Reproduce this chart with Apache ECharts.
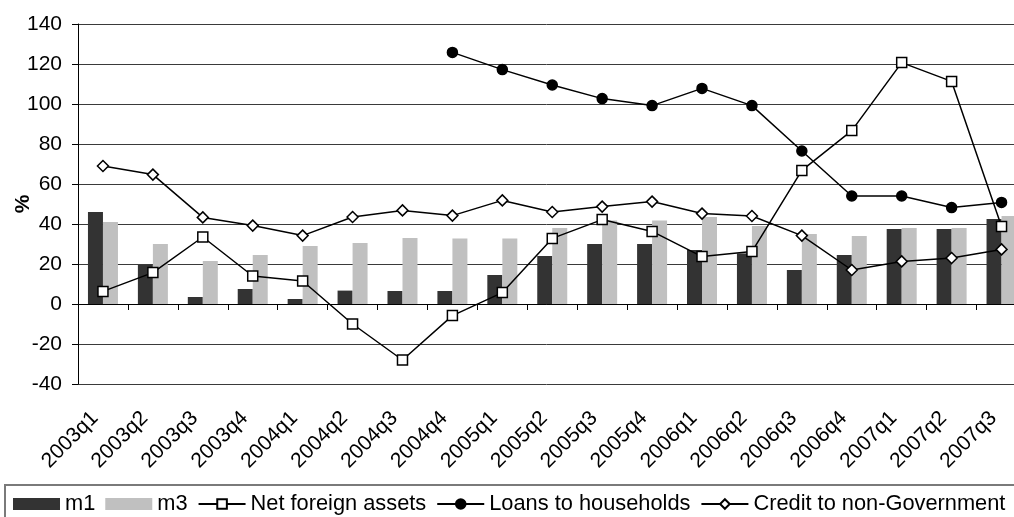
<!DOCTYPE html>
<html>
<head>
<meta charset="utf-8">
<script src="https://cdn.jsdelivr.net/npm/echarts@6/dist/echarts.min.js"></script>
<style>
  html, body { margin: 0; padding: 0; background: #fff; }
  #chart { width: 1014px; height: 517px; }
</style>
</head>
<body>
<div id="chart"></div>
<script>
// Quarterly growth rates, %
const categories = ['2003q1','2003q2','2003q3','2003q4','2004q1','2004q2','2004q3','2004q4',
  '2005q1','2005q2','2005q3','2005q4','2006q1','2006q2','2006q3','2006q4','2007q1','2007q2','2007q3'];
const m1 = [46, 19.5, 3.5, 7.5, 2.5, 6.7, 6.5, 6.5, 14.5, 24, 30, 30, 27, 25.3, 17, 24.5, 37.5, 37.5, 42.5];
const m3 = [41, 30, 21.5, 24.5, 29, 30.5, 33, 32.7, 32.7, 38, 41.7, 41.7, 43.5, 39, 35, 34, 38, 38, 44];
const netForeignAssets = [6.3, 15.7, 33.5, 14, 11.5, -10, -28, -5.8, 5.7, 32.8, 42.2, 36.3, 23.7, 26.2, 66.8, 86.7, 120.7, 111.3, 38.8];
const loansToHouseholds = [null, null, null, null, null, null, null, 125.8, 117.2, 109.5, 102.7, 99.2, 107.8, 99.2, 76.5, 54, 54, 48.2, 50.8];
const creditToNonGov = [69, 64.7, 43.3, 39.2, 34.2, 43.5, 46.8, 44.2, 51.8, 46, 48.7, 51.2, 45.2, 44, 34.2, 17, 21.3, 23, 27.3];
const yTicks = { min: -40, max: 140, step: 20 };

const FONT = "'Liberation Sans', Arial, Helvetica, sans-serif";
const chart = echarts.init(document.getElementById('chart'), null, { renderer: 'canvas' });

const lineSeries = (name, data, symbol, size, fill) => ({
  name, type: 'line', data, xAxisIndex: 0,
  symbol, symbolSize: size,
  connectNulls: false,
  lineStyle: { color: '#000', width: 1.5 },
  itemStyle: { color: fill, borderColor: '#000', borderWidth: 1.5 },
  emphasis: { disabled: true },
  z: 5
});

chart.setOption({
  animation: false,
  backgroundColor: '#fff',
  textStyle: { fontFamily: FONT, color: '#000' },
  grid: { left: 78, right: -12.5, top: 24, bottom: 133, outerBoundsMode: 'none', containLabel: false },
  legend: {
    left: 13, top: 493, padding: 0,
    itemWidth: 47, itemHeight: 12, itemGap: 10,
    textStyle: { fontFamily: FONT, fontSize: 21.8, color: '#000' },
    data: [
      { name: 'm1', icon: 'rect' },
      { name: 'm3', icon: 'rect' },
      'Net foreign assets', 'Loans to households', 'Credit to non-Government'
    ],
    selectedMode: false
  },
  // legend frame
  graphic: [{
    type: 'rect', z: -1, silent: true,
    shape: { x: 5, y: 485, width: 1030, height: 60 },
    style: { fill: 'none', stroke: '#7a7a7a', lineWidth: 2 }
  }],
  xAxis: [{
    // category labels along the bottom edge of the plot
    type: 'category', data: categories, position: 'bottom',
    axisLine: { show: false, onZero: false },
    axisTick: { show: false },
    axisLabel: {
      interval: 0, rotate: 45, margin: 8, align: 'right', verticalAlign: 'top',
      padding: [0, 22, 0, 0],
      fontFamily: FONT, fontSize: 21, color: '#000'
    },
    splitLine: { show: false }
  }, {
    // axis line and ticks sitting on the zero level
    type: 'category', data: categories, position: 'top',
    axisLine: { show: true, onZero: true, lineStyle: { color: '#000', width: 1 } },
    axisTick: { show: true, inside: true, length: 6, interval: 0, lineStyle: { color: '#000', width: 1 } },
    axisLabel: { show: false },
    splitLine: { show: false }
  }],
  yAxis: {
    type: 'value', min: yTicks.min, max: yTicks.max, interval: yTicks.step,
    name: '%', nameLocation: 'middle', nameGap: 44, nameRotate: 90, nameMoveOverlap: false,
    nameTextStyle: { fontFamily: FONT, fontSize: 21, fontWeight: 'bold', color: '#000' },
    axisLine: { show: true, lineStyle: { color: '#000', width: 1 } },
    axisTick: { show: true, length: 6, lineStyle: { color: '#000', width: 1 } },
    axisLabel: { margin: 16, fontFamily: FONT, fontSize: 21, color: '#000' },
    splitLine: { show: true, lineStyle: { color: '#3a3a3a', width: 1 } }
  },
  series: [
    { name: 'm1', type: 'bar', data: m1, barWidth: 15, barGap: '0%', itemStyle: { color: '#333333' }, emphasis: { disabled: true }, z: 2 },
    { name: 'm3', type: 'bar', data: m3, barWidth: 15, barGap: '0%', itemStyle: { color: '#c0c0c0' }, emphasis: { disabled: true }, z: 2 },
    lineSeries('Net foreign assets', netForeignAssets, 'rect', 10, '#fff'),
    lineSeries('Loans to households', loansToHouseholds, 'circle', 10, '#000'),
    lineSeries('Credit to non-Government', creditToNonGov, 'diamond', 11, '#fff')
  ]
});
</script>
</body>
</html>
